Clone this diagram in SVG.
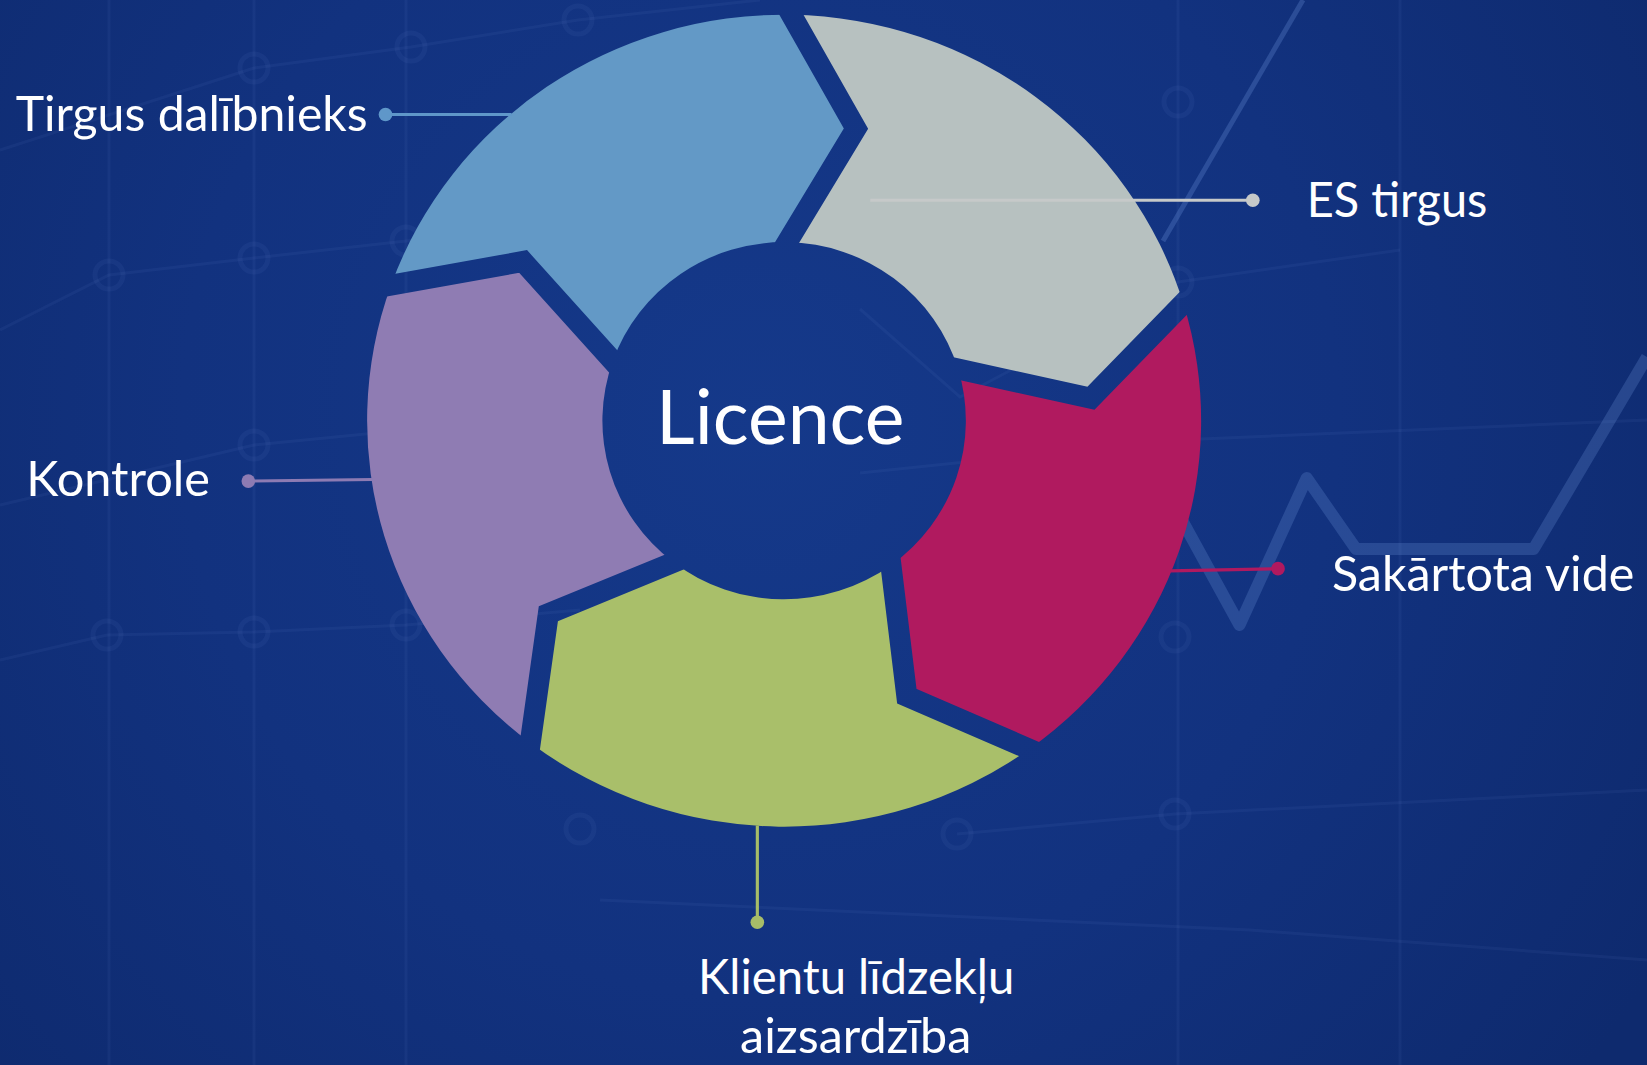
<svg xmlns="http://www.w3.org/2000/svg" width="1647" height="1065" viewBox="0 0 1647 1065">
<defs>
  <radialGradient id="bg" cx="760" cy="420" r="1050" gradientUnits="userSpaceOnUse">
    <stop offset="0" stop-color="#15398a"/>
    <stop offset="0.55" stop-color="#12327f"/>
    <stop offset="1" stop-color="#0e2a6e"/>
  </radialGradient>
  <mask id="gaps" maskUnits="userSpaceOnUse" x="-50" y="-50" width="1700" height="1150">
    <rect x="-50" y="-50" width="1700" height="1150" fill="#fff"/>
    <g fill="none" stroke="#000" stroke-width="20" stroke-linejoin="miter" stroke-miterlimit="10">
      <polyline points="334.54,278.24 498.02,248.94 583.42,343.75 609.04,372.19"/>
      <polyline points="734.99,-18.44 814.90,122.40 749.52,230.53 729.91,262.97"/>
      <polyline points="1152.92,261.71 1038.68,379.06 912.12,351.36 874.15,343.05"/>
      <polyline points="1014.81,728.31 863.33,662.78 848.19,538.03 843.65,500.6"/>
      <polyline points="499.65,743.97 522.05,584.34 641.18,535.37 676.92,520.68"/>
    </g>
  </mask>
  <style>
    .lbl { font-family: Lato, "Open Sans", "Noto Sans", sans-serif; font-size: 46px; fill: #ffffff; }
    .big { font-family: Lato, "Open Sans", "Noto Sans", sans-serif; font-size: 72px; fill: #ffffff; }
    .tex { fill: none; stroke: #7fa2e0; stroke-opacity: 0.07; stroke-width: 3; }
    .ring { fill: none; stroke: #7fa2e0; stroke-opacity: 0.07; stroke-width: 5; }
    .lead { fill: none; stroke-width: 3; }
  </style>
</defs>

<!-- background -->
<rect x="0" y="0" width="1647" height="1065" fill="url(#bg)"/>
<g id="texture">
  <polyline class="tex" points="0,150 254,68 411,47 578,20 760,0"/>
  <polyline class="tex" points="0,330 109,275 254,258 406,241 560,222"/>
  <polyline class="tex" points="0,505 254,445 406,430"/>
  <polyline class="tex" points="0,660 107,635 254,632 406,625 580,610"/>
  <polyline class="tex" points="860,309 960,397 1178,282 1400,250"/>
  <polyline class="tex" points="860,473 1178,440 1647,420"/>
  <polyline class="tex" points="957,834 1175,814 1647,790"/>
  <polyline class="tex" points="600,900 1250,930 1647,960"/>
  <line class="tex" x1="254" y1="0" x2="254" y2="1065"/>
  <line class="tex" x1="109" y1="0" x2="109" y2="1065"/>
  <line class="tex" x1="406" y1="0" x2="406" y2="1065"/>
  <line class="tex" x1="1178" y1="0" x2="1178" y2="1065"/>
  <line class="tex" x1="1400" y1="0" x2="1400" y2="1065"/>
  <circle class="ring" cx="254" cy="68" r="14"/>
  <circle class="ring" cx="411" cy="47" r="14"/>
  <circle class="ring" cx="578" cy="20" r="14"/>
  <circle class="ring" cx="109" cy="275" r="14"/>
  <circle class="ring" cx="254" cy="258" r="14"/>
  <circle class="ring" cx="406" cy="241" r="14"/>
  <circle class="ring" cx="254" cy="445" r="14"/>
  <circle class="ring" cx="107" cy="635" r="14"/>
  <circle class="ring" cx="254" cy="632" r="14"/>
  <circle class="ring" cx="406" cy="625" r="14"/>
  <circle class="ring" cx="580" cy="829" r="14"/>
  <circle class="ring" cx="1178" cy="102" r="14"/>
  <circle class="ring" cx="1178" cy="282" r="14"/>
  <circle class="ring" cx="1175" cy="637" r="14"/>
  <circle class="ring" cx="1175" cy="814" r="14"/>
  <circle class="ring" cx="957" cy="834" r="14"/>
  <polyline points="1183,522 1239.5,625 1306.7,478 1356,549 1533.6,549 1647,357" fill="none" stroke="#6f97dd" stroke-opacity="0.25" stroke-width="12" stroke-linejoin="round"/>
  <line x1="1163" y1="241" x2="1303" y2="0" stroke="#6f97dd" stroke-opacity="0.28" stroke-width="5"/>
</g>

<g transform="scale(1.0504)">
  <g id="node-tirgus-dalibnieks">
    <path mask="url(#gaps)" fill="#6399c6" d="M372.27,271.48 A397,386.5 0 0 1 753.43,14.06 L814.90,122.40 L749.52,230.53 A173,170 0 0 0 583.42,343.75 L498.02,248.94 Z"/>
    <text class="lbl" x="15" y="124.5" textLength="335" lengthAdjust="spacingAndGlyphs">Tirgus dalībnieks</text>
  </g>
  <g id="node-es-tirgus">
    <path mask="url(#gaps)" fill="#b7c1c0" d="M753.43,14.06 A397,386.5 0 0 1 1126.56,288.79 L1038.68,379.06 L912.12,351.36 A173,170 0 0 0 749.52,230.53 L814.90,122.40 Z"/>
    <text class="lbl" x="1244" y="207" textLength="172" lengthAdjust="spacingAndGlyphs">ES tirgus</text>
  </g>
  <g id="node-sakartota-vide">
    <path mask="url(#gaps)" fill="#b01a5f" d="M1126.56,288.79 A397,386.5 0 0 1 979.85,713.19 L863.33,662.78 L848.19,538.03 A173,170 0 0 0 912.12,351.36 L1038.68,379.06 Z"/>
    <text class="lbl" x="1268" y="563" textLength="288" lengthAdjust="spacingAndGlyphs">Sakārtota vide</text>
  </g>
  <g id="node-klientu-lidzeklu-aizsardziba">
    <path mask="url(#gaps)" fill="#a9bf6a" d="M979.85,713.19 A397,386.5 0 0 1 504.82,707.13 L522.05,584.34 L641.18,535.37 A173,170 0 0 0 848.19,538.03 L863.33,662.78 Z"/>
    <text class="lbl" x="664.6" y="946" textLength="301" lengthAdjust="spacingAndGlyphs">Klientu līdzekļu</text>
    <text class="lbl" x="704.6" y="1002" textLength="220" lengthAdjust="spacingAndGlyphs">aizsardzība</text>
  </g>
  <g id="node-kontrole">
    <path mask="url(#gaps)" fill="#8f7cb3" d="M504.82,707.13 A397,386.5 0 0 1 372.27,271.48 L498.02,248.94 L583.42,343.75 A173,170 0 0 0 641.18,535.37 L522.05,584.34 Z"/>
    <text class="lbl" x="25" y="472" textLength="175" lengthAdjust="spacingAndGlyphs">Kontrole</text>
  </g>
  <g id="node-licence">
    <text class="big" x="624.6" y="423" textLength="236.5" lengthAdjust="spacingAndGlyphs">Licence</text>
  </g>

  <g id="connectors">
    <line class="lead" stroke="#5f97c9" x1="367" y1="109" x2="487" y2="109"/>
    <circle cx="367" cy="109" r="6.5" fill="#5f97c9"/>
    <line class="lead" stroke="#c6c9c9" x1="828.5" y1="190.6" x2="1192.7" y2="190.6"/>
    <circle cx="1192.7" cy="190.6" r="6.5" fill="#c6c9c9"/>
    <line class="lead" stroke="#b0195f" x1="1114" y1="543.5" x2="1216.7" y2="541.4"/>
    <circle cx="1216.7" cy="541.4" r="6.5" fill="#b0195f"/>
    <line class="lead" stroke="#a7bd68" x1="721" y1="786" x2="721" y2="878"/>
    <circle cx="721" cy="878" r="6.5" fill="#a7bd68"/>
    <line class="lead" stroke="#8d7bb3" x1="236.4" y1="458" x2="355" y2="456.5"/>
    <circle cx="236.4" cy="458" r="6.5" fill="#8d7bb3"/>
  </g>
</g>
</svg>
